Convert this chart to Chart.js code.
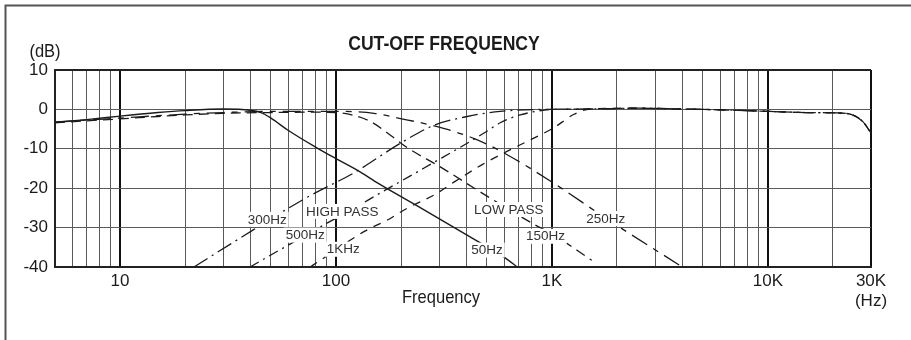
<!DOCTYPE html>
<html>
<head>
<meta charset="utf-8">
<script src="https://cdn.jsdelivr.net/npm/chart.js@4.4.1/dist/chart.umd.min.js"></script>
<style>
  html, body { margin: 0; padding: 0; background: #fff; }
  #wrap { width: 911px; height: 340px; position: relative; }
</style>
</head>
<body>
<div id="wrap"><canvas id="c" width="911" height="340"></canvas></div>
<script>
const NARROW = "'Liberation Sans Narrow', 'Arial Narrow', 'Liberation Sans', sans-serif";
const SANS = "'Liberation Sans', Arial, sans-serif";
const INK = '#1b1b1b';

// Vertical grid: every 1..9 multiple of each decade
const gridFreqs = [5, 6, 7, 8, 9, 10, 20, 30, 40, 50, 60, 70, 80, 90,
  100, 200, 300, 400, 500, 600, 700, 800, 900,
  1000, 2000, 3000, 4000, 5000, 6000, 7000, 8000, 9000, 10000, 20000, 30000];
const labelledFreqs = [10, 100, 1000, 10000, 30000];
const freqTickText = ['10', '100', '1K', '10K', ['30K', '(Hz)']];
const dbTicks = [-40, -30, -20, -10, 0, 10];

// Low pass responses (frequency in Hz, level in dB)
const lp50Freq = [5, 7, 10, 15, 20, 30, 40, 45, 50, 60, 80, 100, 127, 157, 250, 437, 611, 690];
const lp50Db   = [-3.3, -2.6, -1.7, -0.8, -0.3, 0.1, -0.2, -0.8, -2.2, -5.3, -9.5, -12.5, -15.6, -18.8, -25.2, -33, -37.8, -40];

const lp150Freq = [5, 7, 10, 15, 20, 30, 50, 80, 100, 120, 146, 180, 215, 300, 500, 828, 1000, 1528];
const lp150Db   = [-3.4, -2.9, -2.4, -1.8, -1.4, -1.0, -0.8, -0.7, -0.8, -1.5, -3.2, -6.7, -9.8, -14.4, -22, -29.2, -31.6, -38.3];

const lp250Freq = [5, 7, 10, 15, 20, 30, 50, 100, 150, 194, 285, 437, 620, 1023, 1774, 3880];
const lp250Db   = [-3.2, -2.7, -2.2, -1.6, -1.2, -0.8, -0.5, -0.5, -1.0, -2.2, -4.2, -7.4, -11.5, -18.8, -27.6, -39.5];

// High pass responses, each followed by the common top-end response
const hp300Freq = [22, 34, 73, 122, 200, 285, 405, 576, 880];
const hp300Db   = [-40, -33.5, -22.4, -16, -8.5, -4, -1.8, -0.5, 0];

const hp500Freq = [40, 56, 90, 122, 157, 222, 285, 366, 485, 576, 713, 1020];
const hp500Db   = [-40, -35.4, -29, -25, -21.5, -16.8, -13.4, -10, -6, -3.4, -1.4, 0];

const hp1kFreq = [76, 83, 136, 174, 215, 285, 353, 469, 622, 824, 1018, 1259];
const hp1kDb   = [-40, -38.6, -30.9, -28, -25, -21.7, -18.4, -14.2, -10.6, -7.3, -4.7, -1.3];

const topEndFreq = [1500, 2500, 4000, 6000, 10000, 15000, 21000, 24400, 27500, 30000];
const topEndDb   = [0.1, 0.3, 0.1, -0.1, -0.5, -0.8, -0.9, -1.3, -3.1, -6];

// Curve captions, anchored in data units
const captionText = ['300Hz', 'HIGH PASS', '500Hz', '1KHz', 'LOW PASS', '250Hz', '150Hz', '50Hz'];
const captionFreq = [48, 107, 72, 108, 631, 1774, 933, 500];
const captionDb   = [-27.9, -25.9, -31.9, -35.5, -25.4, -27.7, -32.2, -35.7];

const toPoints = (fs, ds) => fs.map((f, i) => ({ x: f, y: ds[i] }));

function curve(label, fs, ds, dash, width) {
  return {
    label,
    data: toPoints(fs, ds),
    borderColor: INK,
    borderWidth: width,
    borderDash: dash,
    pointRadius: 0,
    fill: false,
    cubicInterpolationMode: 'monotone'
  };
}

const decadeSet = new Set([10, 100, 1000, 10000]);

// Draws condensed text by squeezing the canvas horizontally around the anchor
function condensedText(ctx, text, x, y, squeeze) {
  ctx.save();
  ctx.translate(x, y);
  ctx.scale(squeeze, 1);
  ctx.fillText(text, 0, 0);
  ctx.restore();
}

const overlay = {
  id: 'overlay',
  afterDatasetsDraw(chart) {
    const { ctx, scales: { x, y } } = chart;
    ctx.save();
    ctx.font = `13.5px ${SANS}`;
    ctx.textAlign = 'center';
    ctx.textBaseline = 'middle';
    captionText.forEach((t, i) => {
      const px = x.getPixelForValue(captionFreq[i]);
      const py = y.getPixelForValue(captionDb[i]);
      const w = ctx.measureText(t).width;
      ctx.fillStyle = '#fff';
      ctx.fillRect(px - w / 2 - 2, py - 7.5, w + 4, 15);
      ctx.fillStyle = '#333';
      ctx.fillText(t, px, py + 0.5);
    });
    ctx.restore();
  },
  afterDraw(chart) {
    const { ctx } = chart;
    ctx.save();
    // outer frame (top and left edges)
    ctx.strokeStyle = '#555';
    ctx.lineWidth = 2;
    ctx.beginPath();
    ctx.moveTo(911, 5.5);
    ctx.lineTo(5.5, 5.5);
    ctx.lineTo(5.5, 340);
    ctx.stroke();

    ctx.fillStyle = INK;
    ctx.textAlign = 'center';
    ctx.textBaseline = 'middle';
    ctx.font = `bold 20px ${NARROW}`;
    condensedText(ctx, 'CUT-OFF FREQUENCY', 444, 44, 0.88);

    ctx.font = `19px ${NARROW}`;
    condensedText(ctx, '(dB)', 45, 52, 0.87);
    condensedText(ctx, 'Frequency', 441, 298, 0.87);
    ctx.restore();
  }
};

new Chart(document.getElementById('c'), {
  type: 'line',
  data: {
    datasets: [
      curve('50Hz', lp50Freq, lp50Db, [], 1.4),
      curve('150Hz', lp150Freq, lp150Db, [10, 6], 1.3),
      curve('250Hz', lp250Freq, lp250Db, [18, 7, 6, 7], 1.3),
      curve('300Hz', hp300Freq.concat(topEndFreq), hp300Db.concat(topEndDb), [16, 5, 2, 5], 1.3),
      curve('500Hz', hp500Freq.concat(topEndFreq), hp500Db.concat(topEndDb), [10, 5, 2, 5], 1.3),
      curve('1KHz', hp1kFreq.concat(topEndFreq), hp1kDb.concat(topEndDb), [8, 7], 1.3)
    ]
  },
  options: {
    responsive: false,
    animation: false,
    devicePixelRatio: 1,
    layout: { padding: { left: 0, right: 40, top: 70, bottom: 0 } },
    plugins: { legend: { display: false }, tooltip: { enabled: false }, title: { display: false } },
    scales: {
      x: {
        type: 'logarithmic',
        min: 5,
        max: 30000,
        afterBuildTicks(scale) { scale.ticks = gridFreqs.map(v => ({ value: v })); },
        afterFit(scale) { scale.height = 73; },
        ticks: {
          autoSkip: false,
          maxRotation: 0,
          padding: 4,
          color: INK,
          font: { family: NARROW, size: 17, lineHeight: 1.2 },
          callback(v) {
            const i = labelledFreqs.indexOf(v);
            return i >= 0 ? freqTickText[i] : '';
          }
        },
        grid: {
          drawTicks: false,
          color: c => (decadeSet.has(c.tick.value) || c.tick.value === 30000) ? '#111' : '#5a5a5a',
          lineWidth: c => (decadeSet.has(c.tick.value) || c.tick.value === 30000) ? 2 : 1
        },
        border: { display: true, color: '#222', width: 2 }
      },
      y: {
        type: 'linear',
        min: -40,
        max: 10,
        afterBuildTicks(scale) { scale.ticks = dbTicks.map(v => ({ value: v })); },
        afterFit(scale) { scale.width = 55; },
        ticks: {
          padding: 7,
          color: INK,
          font: { family: NARROW, size: 17 }
        },
        grid: {
          drawTicks: false,
          color: c => c.tick.value === 10 ? '#222' : '#5a5a5a',
          lineWidth: c => c.tick.value === 10 ? 2 : 1
        },
        border: { display: true, color: '#222', width: 2 }
      }
    }
  },
  plugins: [overlay]
});
</script>
</body>
</html>
